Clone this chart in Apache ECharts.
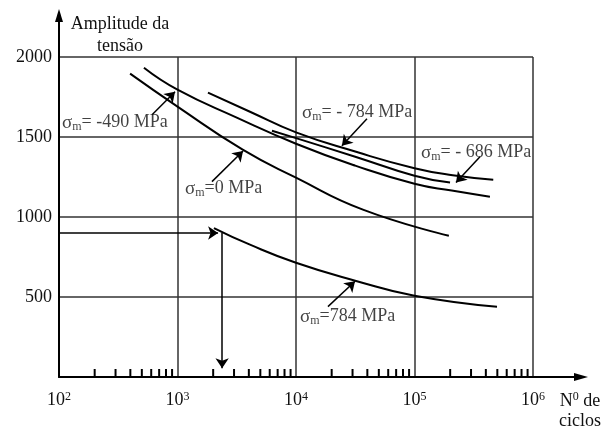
<!DOCTYPE html>
<html><head><meta charset="utf-8">
<script src="https://cdn.jsdelivr.net/npm/echarts@6/dist/echarts.min.js"></script>
<style>html,body{margin:0;padding:0;background:#fff}#c{width:606px;height:432px}</style>
</head><body><div id="c"></div>
<script>
// ---- data ----
const xTickValues = [100, 1000, 10000, 100000, 1000000];
const yTickValues = [0, 500, 1000, 1500, 2000];
const minorTicks = [200,300,400,500,600,700,800,900,
  2000,3000,4000,5000,6000,7000,8000,9000,
  20000,30000,40000,50000,60000,70000,80000,90000,
  200000,300000,400000,500000,600000,700000,800000,900000];
const curveM490 = [[521,1933],[1000,1796],[3162,1621],[10000,1458],[31600,1321],[100000,1208],[206000,1165],[433000,1127]];
const curve0    = [[398,1896],[1000,1690],[3550,1421],[10000,1246],[36700,1046],[195000,883]];
const curveM784 = [[1807,1777],[4090,1658],[10000,1529],[31600,1409],[100000,1305],[210000,1261],[462000,1233]];
const curveM686 = [[6270,1539],[10000,1493],[31600,1377],[100000,1258],[199500,1215]];
const curve784  = [[2030,931],[4090,827],[10000,714],[31600,602],[100000,508],[497000,439]];
const exampleAmplitude = 900;
const exampleCycles = 2380;
const labelTexts = ['= -490 MPa', '=0 MPa', '= - 784 MPa', '= - 686 MPa', '=784 MPa'];
const labelAnchors = [[106,1589],[1156,1177],[11220,1652],[113500,1402],[10800,377]];
const pointerFrom = [[610,1639],[1954,1221],[39700,1614],[357000,1377],[18600,440]];
const pointerTo   = [[953,1783],[3574,1412],[24400,1446],[224000,1215],[31500,598]];

const FONT = 'Liberation Serif';
const TXT = '#111';
const chart = echarts.init(document.getElementById('c'), null, {renderer:'canvas'});

function curve(data){
  return {type:'line', data:data, smooth:0.5, symbol:'none', silent:true,
    lineStyle:{color:'#000', width:2}, z:5};
}

const markLines = [];
for (let i=0;i<pointerFrom.length;i++){
  markLines.push([{coord:pointerFrom[i]},{coord:pointerTo[i]}]);
}
markLines.push([{coord:[xTickValues[0], exampleAmplitude]},{coord:[2200, exampleAmplitude]}]);
markLines.push([{coord:[exampleCycles, exampleAmplitude]},{coord:[exampleCycles, 55]}]);

const option = {
  animation:false,
  backgroundColor:'#fff',
  grid:{left:59, right:73, top:57, bottom:55},
  xAxis:{type:'log', logBase:10, min:xTickValues[0], max:xTickValues[xTickValues.length-1],
    axisLine:{show:true, lineStyle:{color:'#000', width:2}},
    axisTick:{show:false},
    splitLine:{show:true, lineStyle:{color:'#333', width:1.5}},
    axisLabel:{margin:14, color:TXT,
      formatter:function(v){ return '{b|10}{s|' + Math.round(Math.log10(v)) + '}'; },
      rich:{b:{fontFamily:FONT, fontSize:18, color:TXT, lineHeight:18},
            s:{fontFamily:FONT, fontSize:12, color:TXT, lineHeight:11, verticalAlign:'top'}}}
  },
  yAxis:{type:'value', min:yTickValues[0], max:yTickValues[yTickValues.length-1], interval:500,
    axisLine:{show:true, lineStyle:{color:'#000', width:2}},
    axisTick:{show:false},
    splitLine:{show:true, lineStyle:{color:'#333', width:1.5}},
    axisLabel:{margin:7, color:TXT, fontFamily:FONT, fontSize:18,
      formatter:function(v){ return v===0 ? '' : String(v); }}
  },
  series:[
    curve(curveM490), curve(curve0), curve(curveM784), curve(curveM686), curve(curve784),
    {type:'custom', silent:true, z:6,
      data: minorTicks.map(function(v){ return [v, 0]; }),
      encode:{x:0, y:1},
      renderItem:function(params, api){
        const p = api.coord([api.value(0), 0]);
        return {type:'line', shape:{x1:p[0], y1:p[1], x2:p[0], y2:p[1]-8},
          style:{stroke:'#000', lineWidth:2}};
      }},
    {type:'scatter', silent:true, symbolSize:0, z:7,
      data: labelAnchors.map(function(a,i){ return {value:a, name:labelTexts[i]}; }),
      label:{show:true, position:[0,0], align:'left', verticalAlign:'middle',
        formatter:function(p){ return '{g|σ}{m|m}{t|' + p.name + '}'; },
        rich:{g:{fontFamily:FONT, fontSize:19, color:TXT, lineHeight:20},
              m:{fontFamily:FONT, fontSize:12, color:TXT, lineHeight:11, verticalAlign:'bottom'},
              t:{fontFamily:FONT, fontSize:18, color:TXT, lineHeight:20}}}
    },
    {type:'line', data:[], silent:true,
      markLine:{silent:true, symbol:['none','arrow'], symbolSize:10, animation:false,
        label:{show:false}, lineStyle:{color:'#000', width:1.5, type:'solid'},
        emphasis:{disabled:true}, data:markLines}}
  ]
};
chart.setOption(option);

// axis extensions, arrows and axis titles
const o = chart.convertToPixel({gridIndex:0}, [xTickValues[0], 0]);
const e = chart.convertToPixel({gridIndex:0}, [xTickValues[xTickValues.length-1], 0]);
const t = chart.convertToPixel({gridIndex:0}, [xTickValues[0], yTickValues[yTickValues.length-1]]);
chart.setOption({graphic:[
  {type:'line', shape:{x1:o[0], y1:t[1], x2:o[0], y2:20}, style:{stroke:'#000', lineWidth:2}},
  {type:'polygon', shape:{points:[[o[0],9],[o[0]-4,22],[o[0]+4,22]]}, style:{fill:'#000'}},
  {type:'line', shape:{x1:e[0], y1:e[1], x2:576, y2:e[1]}, style:{stroke:'#000', lineWidth:2}},
  {type:'polygon', shape:{points:[[588,e[1]],[574,e[1]-4],[574,e[1]+4]]}, style:{fill:'#000'}},
  {type:'text', x:120, y:13, style:{text:'Amplitude da\ntensão', textAlign:'center', textVerticalAlign:'top',
     font:'18px "Liberation Serif"', fill:TXT, lineHeight:22}},
  {type:'text', x:580, y:391, style:{text:'{n|N}{s|0}{n| de}\n{n|ciclos}', textAlign:'center', textVerticalAlign:'top',
     fill:TXT, rich:{n:{fontFamily:FONT, fontSize:18, lineHeight:20, fill:TXT},
                     s:{fontFamily:FONT, fontSize:12, lineHeight:11, verticalAlign:'top', fill:TXT}}}}
]});
</script></body></html>
